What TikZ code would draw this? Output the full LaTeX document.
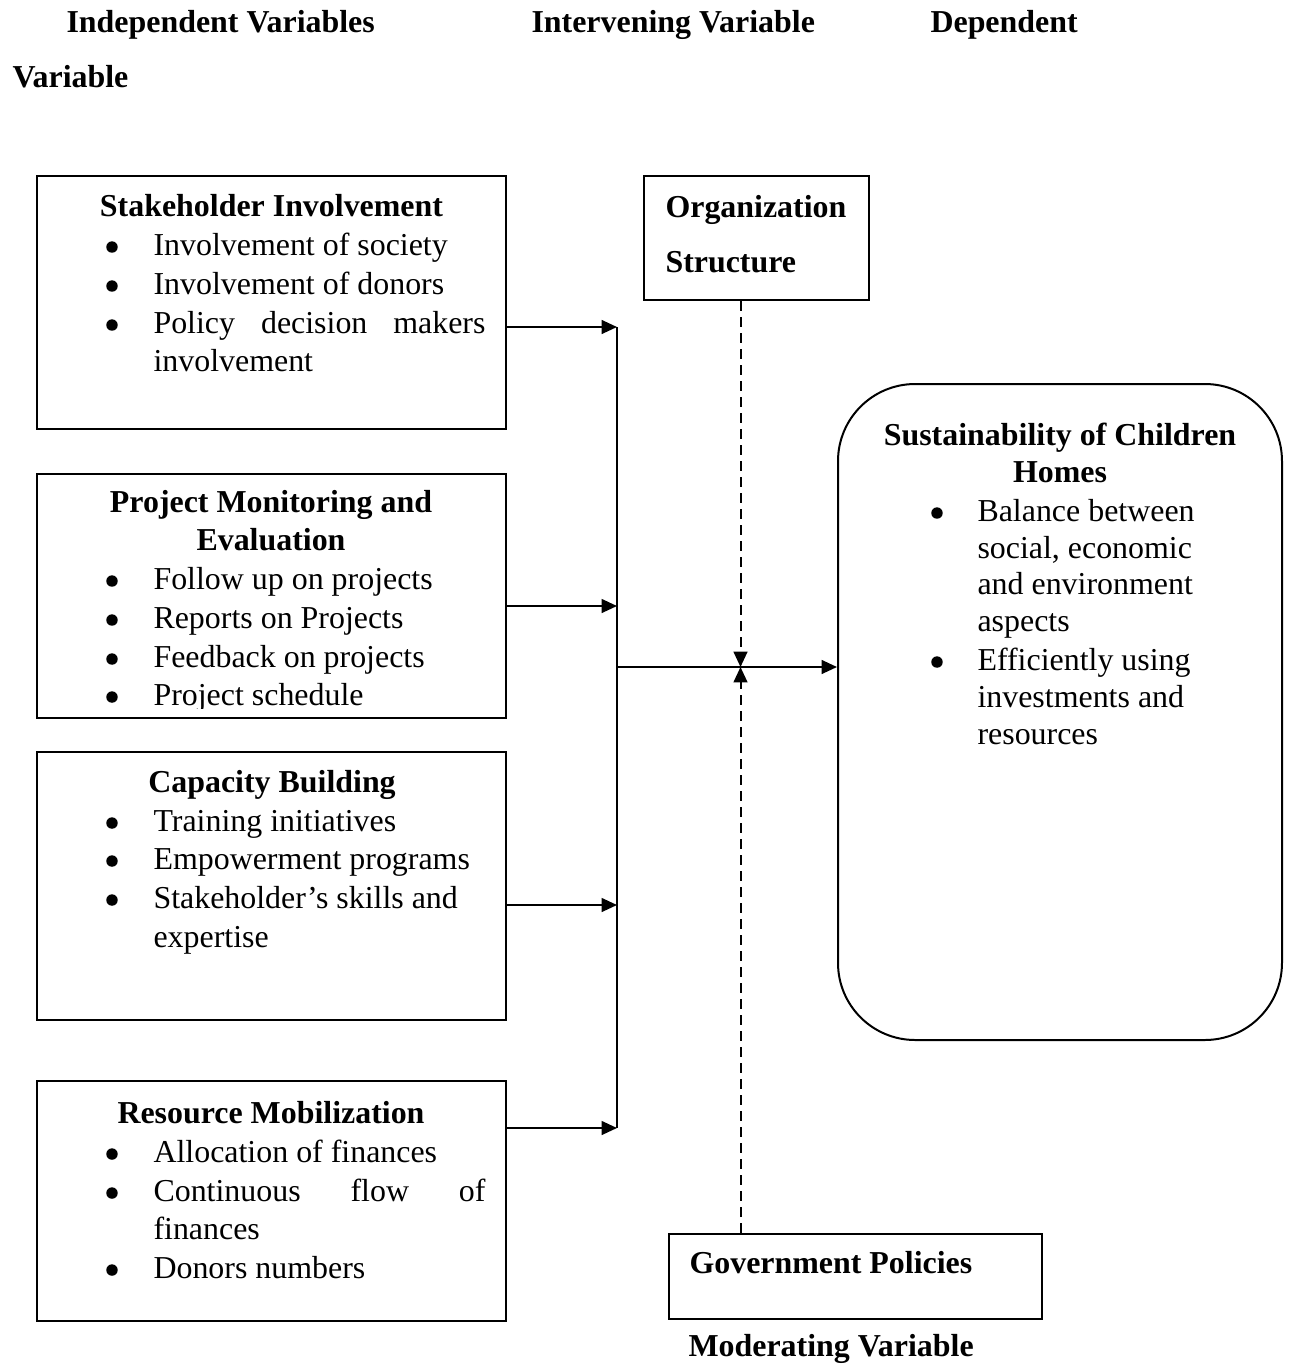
\documentclass[tikz,border=0pt]{standalone}
\usepackage{fontspec}
\setmainfont{Liberation Serif}
\usetikzlibrary{arrows.meta,fit}
\newlength\pxu \setlength\pxu{0.376pt}
\tikzset{
 box/.style={draw, line width=0.75pt, inner sep=0pt},
 tx/.style={anchor=base west, inner sep=0pt, font=\fontsize{12pt}{14pt}\selectfont},
 bt/.style={anchor=base west, inner sep=0pt, font=\fontsize{12pt}{14pt}\selectfont\bfseries},
 ct/.style={anchor=base, inner sep=0pt, font=\fontsize{12pt}{14pt}\selectfont\bfseries},
 bul/.style={circle, fill, inner sep=0pt, minimum size=4.3pt, yshift=3pt},
 ln/.style={line width=0.75pt},
 tip/.style={-{Triangle[length=5.8pt,width=5.2pt]}},
 arr/.style={line width=0.75pt, tip},
 dsh/.style={line width=0.75pt, dash pattern=on 3.76pt off 2.26pt},
}
\begin{document}
\begin{tikzpicture}[x=0.376pt,y=-0.376pt]
\useasboundingbox[fill=white] (0,0) rectangle (1289,1364);
% headers
\node[bt] (h1) at (66,32) {Independent Variables};
\node[bt] (h2) at (531,32) {Intervening Variable};
\node[bt] (h3) at (930,32) {Dependent};
\node[bt] (h4) at (12,87) {Variable};
% boxes
\node[box, fit={(37,176) (506,429)}] (b1) {};
\node[box, fit={(37,474) (506,718)}] (b2) {};
\node[box, fit={(37,752) (506,1020)}] (b3) {};
\node[box, fit={(37,1081) (506,1321)}] (b4) {};
\node[box, fit={(644,176) (869,300)}] (org) {};
\node[box, fit={(669,1234) (1042,1319)}] (gov) {};
\node[box, rounded corners=29pt, fit={(838,384) (1282,1040)}] (sus) {};
% box 1
\node[ct] (b1t) at (271.5,216) {Stakeholder Involvement};
\node[bul] (b1d1) at (112,255) {};
\node[tx] (b1a) at (153,255) {Involvement of society};
\node[bul] (b1d2) at (112,294) {};
\node[tx] (b1b) at (153,294) {Involvement of donors};
\node[bul] (b1d3) at (112,333) {};
\node[tx] (b1c) at (153,333) {\hbox to 332\pxu{Policy\hfill decision\hfill makers}};
\node[tx] (b1d) at (153,371) {involvement};
% box 2
\begin{scope}
\clip (37,474) rectangle (506,708);
\node[ct] (b2t) at (271,512) {Project Monitoring and};
\node[ct] (b2u) at (271,550) {Evaluation};
\node[bul] (b2d1) at (112,589) {};
\node[tx] (b2a) at (153,589) {Follow up on projects};
\node[bul] (b2d2) at (112,628) {};
\node[tx] (b2b) at (153,628) {Reports on Projects};
\node[bul] (b2d3) at (112,667) {};
\node[tx] (b2c) at (153,667) {Feedback on projects};
\node[bul] (b2d4) at (112,705) {};
\node[tx] (b2d) at (153,705) {Project schedule};
\end{scope}
% box 3
\node[ct] (b3t) at (272,792) {Capacity Building};
\node[bul] (b3d1) at (112,831) {};
\node[tx] (b3a) at (153,831) {Training initiatives};
\node[bul] (b3d2) at (112,869) {};
\node[tx] (b3b) at (153,869) {Empowerment programs};
\node[bul] (b3d3) at (112,908) {};
\node[tx] (b3c) at (153,908) {Stakeholder’s skills and};
\node[tx] (b3d) at (153,947) {expertise};
% box 4
\node[ct] (b4t) at (271,1123) {Resource Mobilization};
\node[bul] (b4d1) at (112,1162) {};
\node[tx] (b4a) at (153,1162) {Allocation of finances};
\node[bul] (b4d2) at (112,1201) {};
\node[tx] (b4b) at (153,1201) {\hbox to 332\pxu{Continuous\hfill flow\hfill of}};
\node[tx] (b4c) at (153,1239) {finances};
\node[bul] (b4d3) at (112,1278) {};
\node[tx] (b4d) at (153,1278) {Donors numbers};
% org
\node[bt] (orgt) at (665,217) {Organization};
\node[bt] (orgu) at (665,272) {Structure};
% gov
\node[bt] (govt) at (689,1273) {Government Policies};
\node[bt] (modt) at (688,1356) {Moderating Variable};
% sustainability
\node[ct] (sust) at (1060,445) {Sustainability of Children};
\node[ct] (susu) at (1060,482) {Homes};
\node[bul] (susd1) at (937,521) {};
\node[tx] (susa) at (977,521) {Balance between};
\node[tx] (susb) at (977,558) {social, economic};
\node[tx] (susc) at (977,594) {and environment};
\node[tx] (susd) at (977,631) {aspects};
\node[bul] (susd2) at (937,670) {};
\node[tx] (suse) at (977,670) {Efficiently using};
\node[tx] (susf) at (977,707) {investments and};
\node[tx] (susg) at (977,744) {resources};
% connectors
\coordinate (bus1) at (617,327);
\coordinate (bus2) at (617,606);
\coordinate (bus3) at (617,905);
\coordinate (bus4) at (617,1128);
\coordinate (busm) at (617,667);
\coordinate (meet) at (740.5,667);
\draw[ln] (bus1) -- (bus4);
\draw[arr] (b1.east |- bus1) -- (bus1);
\draw[arr] (b2.east |- bus2) -- (bus2);
\draw[arr] (b3.east |- bus3) -- (bus3);
\draw[arr] (b4.east |- bus4) -- (bus4);
\draw[arr] (busm) -- (sus.west |- busm);
\draw[dsh, tip] (meet |- org.south) -- (meet);
\draw[dsh, tip] (meet |- gov.north) -- (meet);
\end{tikzpicture}
\end{document}
